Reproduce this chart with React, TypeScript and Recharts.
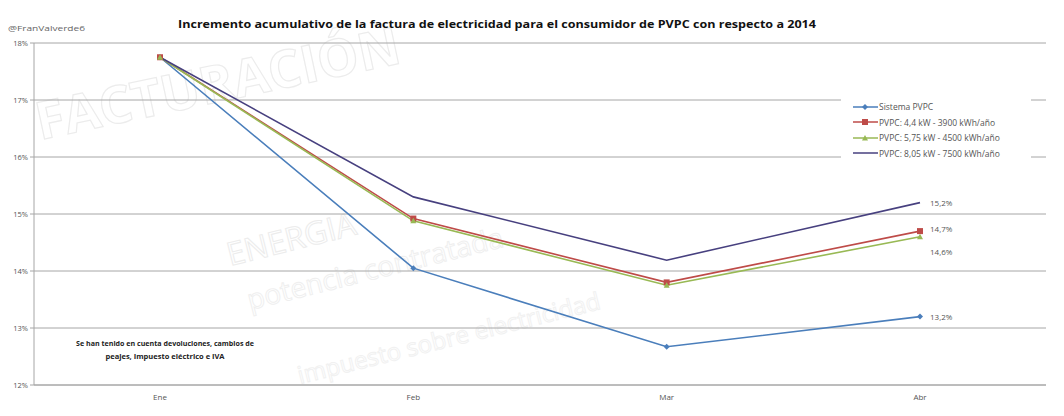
import {
  LineChart,
  Line,
  XAxis,
  YAxis,
  CartesianGrid,
  LabelList,
} from "recharts";

const categorias = ["Ene", "Feb", "Mar", "Abr"];
const sistemaPVPC = [17.75, 14.05, 12.67, 13.2];
const pvpc44 = [17.75, 14.92, 13.8, 14.7];
const pvpc575 = [17.75, 14.88, 13.75, 14.6];
const pvpc805 = [17.75, 15.3, 14.19, 15.2];
const etiquetasFinales = ["13,2%", "14,7%", "14,6%", "15,2%"];
const ticksY = [12, 13, 14, 15, 16, 17, 18];

const series = [
  { key: "sistema", name: "Sistema PVPC", color: "#4a7ebb", marker: "diamond", labelDy: 0 },
  { key: "p44", name: "PVPC: 4,4 kW - 3900 kWh/año", color: "#be4b48", marker: "square", labelDy: -2 },
  { key: "p575", name: "PVPC: 5,75 kW - 4500 kWh/año", color: "#98b954", marker: "triangle", labelDy: 15 },
  { key: "p805", name: "PVPC: 8,05 kW - 7500 kWh/año", color: "#47407f", marker: "none", labelDy: 0 },
];

const data = categorias.map((mes, i) => ({
  mes,
  sistema: sistemaPVPC[i],
  p44: pvpc44[i],
  p575: pvpc575[i],
  p805: pvpc805[i],
}));

const FONT = "'Open Sans', 'Liberation Sans', sans-serif";

const Marker = ({ cx, cy, tipo, color }: any) => {
  if (cx == null || cy == null || tipo === "none") return <g />;
  if (tipo === "square")
    return <rect x={cx - 3} y={cy - 3} width={6} height={6} fill={color} />;
  if (tipo === "diamond")
    return (
      <path d={`M${cx},${cy - 3}L${cx + 3},${cy}L${cx},${cy + 3}L${cx - 3},${cy}Z`} fill={color} />
    );
  return (
    <path d={`M${cx},${cy - 3}L${cx + 3},${cy + 2.5}L${cx - 3},${cy + 2.5}Z`} fill={color} />
  );
};

// leyenda fuera del chart para que no encoja el área de trazado
const Leyenda = () => (
  <div
    style={{
      position: "absolute",
      left: 841,
      top: 99,
      background: "#fff",
      padding: "0 8px 0 12px",
      fontFamily: FONT,
      fontSize: 8.5,
      color: "#555",
      width: 190,
      height: 62,
      boxSizing: "border-box",
    }}
  >
    {series.map((s) => (
      <div key={s.key} style={{ display: "flex", alignItems: "center", height: 15.5, whiteSpace: "nowrap" }}>
        <svg width={26} height={8} style={{ flex: "none" }}>
          <line x1={0} y1={4} x2={25} y2={4} stroke={s.color} strokeWidth={1.5} />
          <Marker cx={12} cy={4} tipo={s.marker} color={s.color} />
        </svg>
        <span>{s.name}</span>
      </div>
    ))}
  </div>
);

const Fondo = () => (
  <svg
    width={1064}
    height={416}
    style={{ position: "absolute", left: 0, top: 0 }}
    fontFamily={FONT}
  >
    <text x={40} y={140} fontSize={52} fill="none" stroke="#ececec" strokeWidth={1.2}
      transform="rotate(-12 40 140)" fontWeight="bold">FACTURACIÓN</text>
    <text x={230} y={266} fontSize={32} fill="none" stroke="#ececec" strokeWidth={1}
      transform="rotate(-14 230 266)">ENERGIA</text>
    <text x={250} y={310} fontSize={28} fill="none" stroke="#efefef" strokeWidth={1}
      transform="rotate(-14 250 310)">potencia contratada</text>
    <text x={300} y={384} fontSize={24} fill="none" stroke="#f1f1f1" strokeWidth={1}
      transform="rotate(-14 300 384)">impuesto sobre electricidad</text>
  </svg>
);

export default function App() {
  return (
    <div style={{ position: "absolute", left: 0, top: 0, width: 1064, height: 416, background: "#fff" }}>
      <Fondo />
      <div style={{ position: "absolute", left: 0, top: 0 }}>
        <LineChart
          width={1064}
          height={416}
          data={data}
          margin={{ top: 43, right: 18, bottom: 0, left: 0 }}
        >
          <CartesianGrid vertical={false} stroke="#a6a6a6" />
          <XAxis
            dataKey="mes"
            height={31}
            stroke="#a6a6a6"
            tickLine={false}
            tickMargin={3}
            padding={{ left: 126, right: 126 }}
            tick={{ fontSize: 8, fill: "#555", fontFamily: FONT }}
          />
          <YAxis
            width={34}
            domain={[12, 18]}
            ticks={ticksY}
            stroke="#a6a6a6"
            tickSize={4}
            tickFormatter={(v: number) => `${v}%`}
            tick={{ fontSize: 7.5, fill: "#555", fontFamily: FONT }}
          />
          {series.map((s, si) => (
            <Line
              key={s.key}
              dataKey={s.key}
              name={s.name}
              stroke={s.color}
              strokeWidth={1.6}
              isAnimationActive={false}
              dot={(p: any) => (
                <Marker key={`${s.key}-${p.index}`} cx={p.cx} cy={p.cy} tipo={s.marker} color={s.color} />
              )}
              activeDot={false}
            >
              <LabelList
                dataKey={s.key}
                content={(p: any) =>
                  p.index === categorias.length - 1 ? (
                    <text
                      x={p.x + 10}
                      y={p.y + s.labelDy}
                      dy={3}
                      fontSize={8}
                      fill="#555"
                      fontFamily={FONT}
                    >
                      {etiquetasFinales[si]}
                    </text>
                  ) : null
                }
              />
            </Line>
          ))}
        </LineChart>
      </div>
      <Leyenda />
      <svg width={1064} height={416} style={{ position: "absolute", left: 0, top: 0, pointerEvents: "none" }}>
        <text x={8} y={31} fontSize={8} fill="#666" fontFamily={FONT}
          textLength={77} lengthAdjust="spacingAndGlyphs">@FranValverde6</text>
        <text x={178} y={28} fontSize={11} fontWeight="bold" fill="#111" fontFamily={FONT}
          textLength={638} lengthAdjust="spacingAndGlyphs">
          Incremento acumulativo de la factura de electricidad para el consumidor de PVPC con respecto a 2014
        </text>
        <text x={165} y={346} fontSize={7.5} fontWeight="bold" fill="#222" textAnchor="middle" fontFamily={FONT}
          textLength={178} lengthAdjust="spacingAndGlyphs">
          Se han tenido en cuenta  devoluciones,  cambios de
        </text>
        <text x={165} y={359} fontSize={7.5} fontWeight="bold" fill="#222" textAnchor="middle" fontFamily={FONT}>
          peajes, Impuesto eléctrico e IVA
        </text>
      </svg>
    </div>
  );
}
